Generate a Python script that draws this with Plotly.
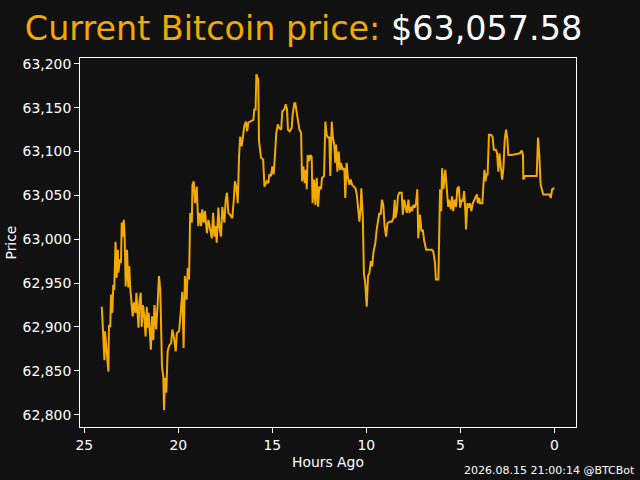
import plotly.graph_objects as go

# price over the last 24 hours
hours_ago = [
    24.07, 23.93, 23.90, 23.81, 23.72, 23.69, 23.62, 23.58, 23.51, 23.46,
    23.41, 23.34, 23.28, 23.22, 23.19, 23.11, 23.05, 23.01, 22.96, 22.90,
    22.85, 22.80, 22.73, 22.66, 22.61, 22.56, 22.48, 22.43, 22.36, 22.28,
    22.23, 22.18, 22.12, 22.07, 22.00, 21.95, 21.88, 21.81, 21.74, 21.68,
    21.63, 21.58, 21.51, 21.46, 21.40, 21.33, 21.27, 21.18, 21.09, 21.03,
    20.96, 20.91, 20.87, 20.80, 20.76, 20.71, 20.64, 20.57, 20.50, 20.38,
    20.32, 20.24, 20.14, 20.08, 19.96, 19.86, 19.79, 19.72, 19.65, 19.56,
    19.50, 19.43, 19.37, 19.28, 19.25, 19.18, 19.11, 19.02, 18.94, 18.86,
    18.79, 18.73, 18.65, 18.58, 18.48, 18.40, 18.31, 18.22, 18.15, 18.08,
    18.01, 17.96, 17.87, 17.80, 17.73, 17.66, 17.55, 17.48, 17.41, 17.34,
    17.25, 17.13, 17.05, 16.99, 16.92, 16.84, 16.77, 16.71, 16.63, 16.55,
    16.49, 16.41, 16.34, 16.28, 16.17, 16.01, 15.96, 15.89, 15.85, 15.75,
    15.71, 15.60, 15.49, 15.42, 15.30, 15.21, 15.16, 15.07, 15.00, 14.93,
    14.86, 14.79, 14.71, 14.64, 14.53, 14.47, 14.36, 14.29, 14.22, 14.17,
    14.08, 13.97, 13.92, 13.83, 13.78, 13.70, 13.65, 13.56, 13.47, 13.42,
    13.35, 13.28, 13.22, 13.17, 13.12, 13.05, 12.98, 12.91, 12.86, 12.78,
    12.71, 12.64, 12.57, 12.50, 12.41, 12.36, 12.25, 12.18, 12.11, 12.04,
    11.97, 11.92, 11.84, 11.78, 11.71, 11.65, 11.61, 11.54, 11.47, 11.40,
    11.35, 11.26, 11.17, 11.12, 11.05, 10.98, 10.90, 10.83, 10.76, 10.69,
    10.58, 10.51, 10.44, 10.37, 10.30, 10.27, 10.19, 10.13, 10.06, 9.98,
    9.91, 9.84, 9.76, 9.69, 9.63, 9.52, 9.45, 9.38, 9.31, 9.24,
    9.17, 9.10, 9.03, 8.95, 8.88, 8.77, 8.65, 8.56, 8.49, 8.46,
    8.38, 8.32, 8.25, 8.12, 8.06, 7.99, 7.92, 7.85, 7.76, 7.71,
    7.64, 7.57, 7.50, 7.43, 7.36, 7.29, 7.24, 7.15, 7.07, 7.00,
    6.93, 6.82, 6.70, 6.52, 6.44, 6.35, 6.30, 6.17, 6.08, 6.02,
    5.97, 5.90, 5.80, 5.72, 5.65, 5.60, 5.51, 5.44, 5.38, 5.30,
    5.23, 5.16, 5.08, 5.01, 4.94, 4.87, 4.80, 4.73, 4.70, 4.63,
    4.56, 4.49, 4.42, 4.34, 4.26, 4.20, 4.12, 4.07, 4.00, 3.95,
    3.83, 3.78, 3.72, 3.67, 3.60, 3.55, 3.48, 3.39, 3.29, 3.22,
    3.11, 3.05, 2.98, 2.92, 2.85, 2.78, 2.71, 2.64, 2.57, 2.50,
    2.45, 2.26, 1.83, 1.74, 1.67, 1.65, 1.56, 0.94, 0.87, 0.80,
    0.73, 0.66, 0.59, 0.26, 0.19, 0.12, 0.05, 0.00,
]

price = [
    62923, 62862, 62895, 62874, 62849, 62902, 62900, 62937, 62916, 62948,
    62942, 62997, 62956, 62988, 62962, 62977, 62973, 63019, 63003, 63022,
    62999, 62946, 62988, 62945, 62969, 62945, 62928, 62912, 62928, 62916,
    62939, 62912, 62899, 62928, 62939, 62900, 62925, 62912, 62889, 62923,
    62899, 62916, 62889, 62874, 62912, 62885, 62925, 62897, 62931, 62958,
    62942, 62908, 62855, 62843, 62805, 62842, 62825, 62872, 62878, 62882,
    62897, 62889, 62872, 62893, 62895, 62920, 62940, 62876, 62958, 62931,
    62967, 62954, 63030, 63019, 63062, 63066, 63041, 63060, 63015, 63030,
    63015, 63034, 63019, 63032, 63007, 63022, 63011, 63001, 63030, 63003,
    63015, 62996, 63036, 63011, 63003, 63037, 63019, 63045, 63053, 63030,
    63028, 63024, 63045, 63066, 63060, 63041, 63095, 63117, 63106, 63119,
    63129, 63134, 63123, 63133, 63134, 63136, 63148, 63148, 63188, 63182,
    63112, 63093, 63091, 63060, 63066, 63064, 63074, 63072, 63083, 63074,
    63096, 63121, 63131, 63127, 63125, 63146, 63148, 63154, 63148, 63125,
    63123, 63127, 63142, 63155, 63155, 63144, 63133, 63125, 63121, 63066,
    63083, 63064, 63079, 63057, 63096, 63089, 63096, 63094, 63041, 63068,
    63039, 63070, 63037, 63060, 63057, 63070, 63072, 63134, 63119, 63116,
    63116, 63072, 63134, 63116, 63108, 63087, 63108, 63077, 63100, 63079,
    63087, 63079, 63081, 63047, 63087, 63070, 63062, 63068, 63062, 63060,
    63058, 63051, 63034, 63020, 63037, 63058, 63026, 62961, 62950, 62923,
    62958, 62961, 62975, 62969, 62984, 62996, 63011, 63024, 63030, 63028,
    63045, 63039, 63015, 63003, 63018, 63020, 63020, 63024, 63045, 63024,
    63032, 63049, 63053, 63053, 63028, 63045, 63036, 63030, 63045, 63030,
    63037, 63032, 63039, 63036, 63041, 63057, 63001, 63028, 63009, 63011,
    62999, 62988, 62988, 62988, 62986, 62973, 62954, 62954, 63057, 63032,
    63081, 63057, 63079, 63049, 63037, 63045, 63034, 63049, 63032, 63045,
    63037, 63058, 63060, 63036, 63045, 63043, 63055, 63030, 63011, 63041,
    63036, 63041, 63032, 63041, 63045, 63047, 63051, 63041, 63047, 63041,
    63041, 63060, 63079, 63066, 63074, 63074, 63119, 63119, 63117, 63102,
    63102, 63098, 63077, 63098, 63081, 63068, 63081, 63114, 63125, 63114,
    63096, 63096, 63098, 63101, 63096, 63068, 63072, 63072, 63116, 63095,
    63062, 63057, 63051, 63051, 63047, 63057, 63058, 63057.58,
]

current_price = price[-1]
stamp = "2026.08.15 21:00:14 @BTCBot"

orange = "#F2A900"
bg = "#111111"
font = "DejaVu Sans"

fig = go.Figure()
fig.add_trace(go.Scatter(x=hours_ago, y=price, mode="lines",
                         line=dict(color=orange, width=2), hoverinfo="skip"))

axis_style = dict(showline=True, mirror=True, linecolor="white", linewidth=1,
                  showgrid=False, zeroline=False, ticks="outside", ticklen=5,
                  tickcolor="white", tickwidth=1, automargin=False,
                  tickfont=dict(family=font, size=13.9, color="white"))

fig.update_xaxes(range=[25.23, -1.15], tickvals=[25, 20, 15, 10, 5, 0], **axis_style)
fig.update_yaxes(range=[62785.9, 63206.6], tickvals=list(range(62800, 63201, 50)),
                 tickformat=",d", **axis_style)

label_font = dict(family=font, size=13.9, color="white")
fig.update_layout(
    width=640, height=480,
    paper_bgcolor=bg, plot_bgcolor=bg,
    margin=dict(l=80, r=64, t=58, b=53),
    showlegend=False,
    title=dict(text=f"Current Bitcoin price: <span style='color:white'>${current_price:,.2f}</span>",
               font=dict(family=font, size=33.4, color=orange),
               x=303.5 / 640, xanchor="center", xref="container",
               y=1 - 28 / 480, yanchor="middle", yref="container"),
    annotations=[
        # axis titles placed by hand (matplotlib-like spacing)
        dict(text="Hours Ago", xref="paper", yref="paper", x=0.5, y=-(462 - 427) / 369,
             xanchor="center", yanchor="middle", showarrow=False, font=label_font),
        dict(text="Price", xref="paper", yref="paper", x=-(80 - 10) / 496, y=0.5,
             xanchor="center", yanchor="middle", textangle=-90, showarrow=False,
             font=label_font),
        dict(text=stamp, xref="paper", yref="paper",
             x=(637 - 80) / 496, y=-(470 - 427) / 369,
             xanchor="right", yanchor="middle", showarrow=False,
             font=dict(family=font, size=11, color="white")),
    ],
)

# page body has a default margin, drop it so the figure sits at the corner
fig.write_html("out.html", config={"displayModeBar": False},
               post_script="document.body.style.margin='0';document.body.style.background='#111111';")
